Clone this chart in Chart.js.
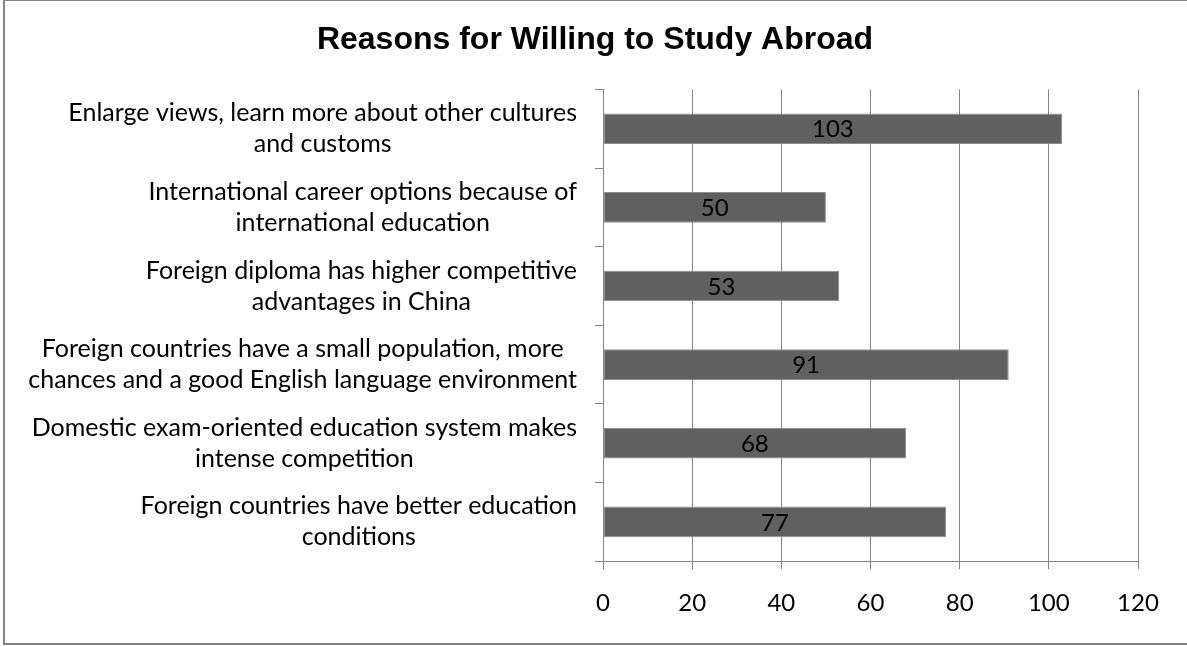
<!DOCTYPE html>
<html>
<head>
<meta charset="utf-8">
<title>Reasons for Willing to Study Abroad</title>
<script src="https://cdn.jsdelivr.net/npm/chart.js@4.4.1/dist/chart.umd.min.js"></script>
<style>
  html, body { margin: 0; padding: 0; background: #fff; }
  canvas { display: block; }
</style>
</head>
<body>
<canvas id="reasonsChart" width="1187" height="646"></canvas>
<script>
// Chart data (top to bottom)
const chartTitle = 'Reasons for Willing to Study Abroad';
const reasons = [
  ['Enlarge views, learn more about other cultures', 'and customs'],
  ['International career options because of', 'international education'],
  ['Foreign diploma has higher competitive', 'advantages in China'],
  ['Foreign countries have a small population, more', 'chances and a good English language environment'],
  ['Domestic exam-oriented education system makes', 'intense competition'],
  ['Foreign countries have better education', 'conditions']
];
const counts = [103, 50, 53, 91, 68, 77];
const xTicks = [0, 20, 40, 60, 80, 100, 120];

const GRAY = '#848484';
const BAR = '#606060';
const TEXT_FONT = 'Lato, "Open Sans", sans-serif';
const LABEL_SIZE = 25;
const LINE_GAP = 31;

// white background, frame, category labels and value labels
const frameAndLabels = {
  id: 'frameAndLabels',
  beforeDraw(chart) {
    const ctx = chart.ctx;
    ctx.save();
    ctx.fillStyle = '#fff';
    ctx.fillRect(0, 0, chart.width, chart.height);
    ctx.strokeStyle = GRAY;
    ctx.lineWidth = 2;
    ctx.strokeRect(4, 0, chart.width + 20, chart.height - 2);
    ctx.restore();
  },
  afterDatasetsDraw(chart) {
    const ctx = chart.ctx;
    const yScale = chart.scales.y;
    ctx.save();
    ctx.fillStyle = '#000';
    ctx.textBaseline = 'middle';
    ctx.textAlign = 'center';

    // block right aligned next to the axis, lines centred inside the block
    ctx.font = LABEL_SIZE + 'px ' + TEXT_FONT;
    chart.data.labels.forEach((lines, i) => {
      const yc = yScale.getPixelForValue(i);
      const w = Math.max(...lines.map(l => ctx.measureText(l).width));
      const xc = yScale.right - 26 - w / 2;
      lines.forEach((l, k) => {
        ctx.fillText(l, xc, yc + (k - (lines.length - 1) / 2) * LINE_GAP);
      });
    });

    ctx.font = '24px ' + TEXT_FONT;
    const values = chart.data.datasets[0].data;
    chart.getDatasetMeta(0).data.forEach((bar, i) => {
      ctx.fillText(String(values[i]), (bar.x + bar.base) / 2, bar.y + 1);
    });
    ctx.restore();
  }
};

new Chart(document.getElementById('reasonsChart'), {
  type: 'bar',
  data: {
    labels: reasons,
    datasets: [{
      data: counts,
      backgroundColor: BAR,
      borderColor: '#8c8c8c',
      borderWidth: 1,
      borderSkipped: false,
      barPercentage: 0.39,
      categoryPercentage: 1
    }]
  },
  options: {
    indexAxis: 'y',
    responsive: false,
    animation: false,
    layout: { padding: { top: 0, right: 49, bottom: 8, left: 52 } },
    plugins: {
      legend: { display: false },
      tooltip: { enabled: false },
      title: {
        display: true,
        text: chartTitle,
        color: '#000',
        font: { family: '"Liberation Sans", Arial, sans-serif', size: 32, weight: 'bold' },
        padding: { top: 21, bottom: 30 }
      }
    },
    scales: {
      x: {
        min: xTicks[0],
        max: xTicks[xTicks.length - 1],
        ticks: {
          stepSize: xTicks[1] - xTicks[0],
          color: '#000',
          font: { family: TEXT_FONT, size: 24 },
          padding: 20
        },
        grid: { color: GRAY, lineWidth: 1, tickLength: 8 },
        border: { color: GRAY, width: 1 }
      },
      y: {
        offset: true,
        ticks: { display: false },
        grid: { offset: true, drawOnChartArea: false, color: GRAY, tickLength: 8 },
        border: { color: GRAY, width: 1 },
        afterFit(scale) { scale.width = 551; }
      }
    }
  },
  plugins: [frameAndLabels]
});
</script>
</body>
</html>
